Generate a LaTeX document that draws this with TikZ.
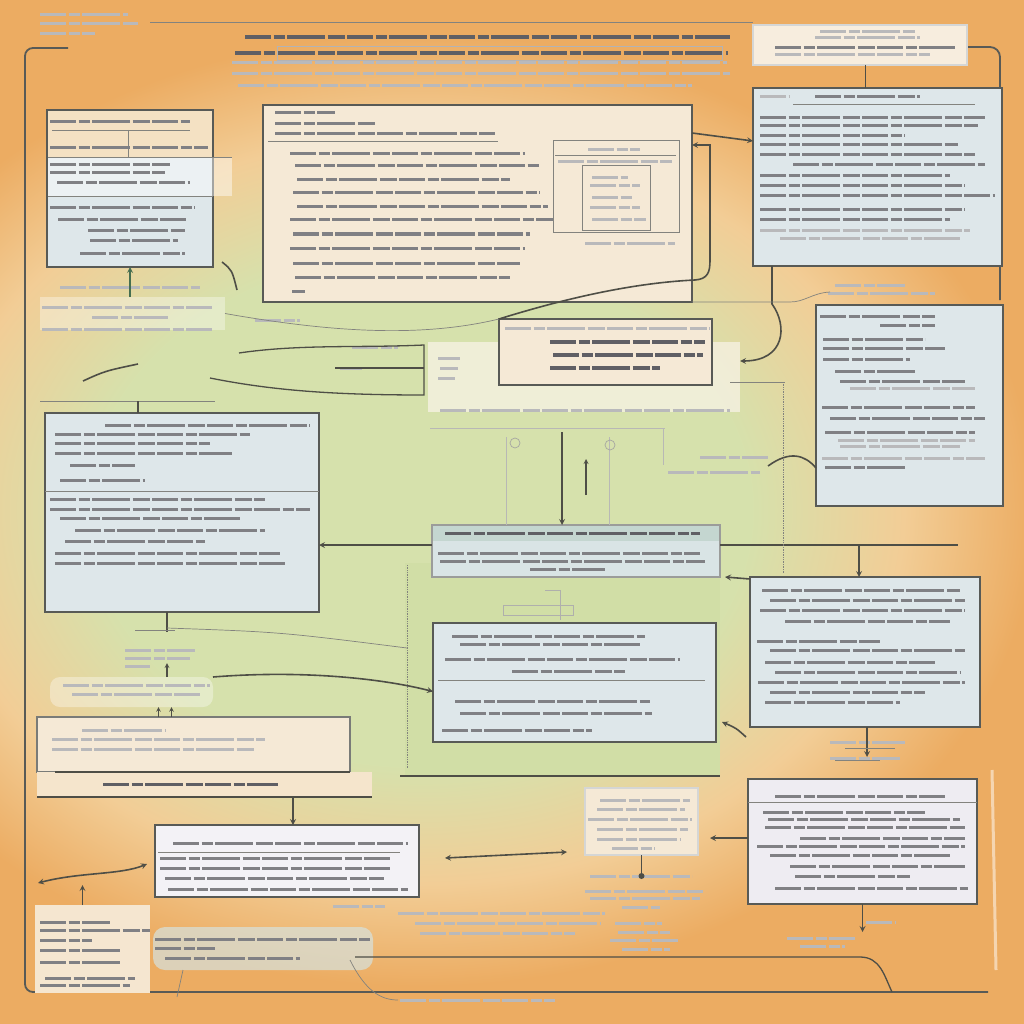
\documentclass[tikz,border=0pt]{standalone}
\definecolor{bgorange}{RGB}{236,172,98}
\definecolor{bgpeach}{RGB}{242,205,150}
\definecolor{bggreen}{RGB}{214,225,172}
\definecolor{boxblue}{RGB}{222,231,234}
\definecolor{boxbeige}{RGB}{245,233,214}
\definecolor{boxlav}{RGB}{238,236,242}
\definecolor{boxteal}{RGB}{196,214,208}
\definecolor{greenpanel}{RGB}{209,222,166}
\definecolor{boxborder}{RGB}{88,90,86}
\definecolor{linedark}{RGB}{78,78,70}
\definecolor{greenline}{RGB}{70,110,80}
\definecolor{textgray}{RGB}{128,128,132}
\definecolor{textdark}{RGB}{95,95,100}
\usepackage{tikz}
\usetikzlibrary{shapes,arrows,positioning,calc}
\pgfdeclareradialshading{bgglow}{\pgfpoint{0bp}{0bp}}{color(0bp)=(bggreen); color(7.5bp)=(bggreen); color(11bp)=(bgpeach); color(14bp)=(bgorange); color(50bp)=(bgorange)}

\begin{document}
\begin{tikzpicture}[x=1pt, y=-1pt,
    panelbox/.style={draw=boxborder, line width=1.6pt, inner sep=0pt, outer sep=0pt, anchor=north west},
    bluebox/.style={panelbox, fill=boxblue},
    beigebox/.style={panelbox, fill=boxbeige},
    lavbox/.style={panelbox, fill=boxlav},
    softbox/.style={panelbox, draw=none, fill=white, fill opacity=.35},
    txt/.style={line width=3pt, draw=textgray, dash pattern=on 26pt off 2.5pt on 11pt off 2.5pt on 38pt off 2.5pt on 17pt off 2.5pt},
    txtdark/.style={txt, draw=textdark, line width=3.6pt},
    txtfaint/.style={txt, draw=textgray!55},
    conn/.style={draw=linedark, line width=1.6pt, >=stealth},
    hairline/.style={draw=linedark!70, line width=0.7pt},
    frameline/.style={draw=boxborder, line width=1.8pt}]

    % Background
    \useasboundingbox (0,0) rectangle (1024,1024);
    \begin{scope}
        \clip (0,0) rectangle (1024,1024);
        \fill[bgorange] (0,0) rectangle (1024,1024);
        \shade[shading=bgglow] (420,510) ellipse (1100 and 850);
    \end{scope}
    \fill[greenpanel] (405,563) rectangle (720,776);
    \fill[boxbeige, fill opacity=.55] (428,342) rectangle (740,412);
    \node[softbox, minimum width=312, minimum height=70] (Dpanel) at (428,342) {};

    % Frame
    \draw[frameline, rounded corners=8] (68,48) -- (25,48) -- (25,992) -- (988,992);
    \draw[frameline, rounded corners=10] (963,47) -- (1000,47) -- (1000,300);
    \draw[hairline] (150,22) -- (753,22);
    \draw[white, opacity=.5, line width=3pt] (992,770) -- (996,970);

    % Title
    \draw[txtdark] (245,37) -- (730,37);
    \draw[txtdark] (235,53) -- (728,53);
    \draw[hairline, draw=textgray!60] (277,46) rectangle (722,60);
    \foreach \y/\a/\b in {63/232/727, 74/232/730, 86/238/692, 15/40/128, 24/40/138, 34/40/95}
        \draw[txtfaint] (\a,\y) -- (\b,\y);

    % Boxes
    \node[panelbox, draw=boxborder!25, fill=boxbeige!80!white, minimum width=214, minimum height=40] (T) at (753,25) {};
    \node[bluebox, minimum width=166, minimum height=157] (A) at (47,110) {};
    \node[beigebox, minimum width=429, minimum height=197] (B) at (263,105) {};
    \node[bluebox, minimum width=249, minimum height=178] (C) at (753,88) {};
    \node[softbox, minimum width=185, minimum height=33] (Astrip) at (40,297) {};
    \node[beigebox, line width=2pt, minimum width=213, minimum height=66] (D) at (499,319) {};
    \node[bluebox, minimum width=187, minimum height=201] (E) at (816,305) {};
    \node[bluebox, minimum width=274, minimum height=199] (F) at (45,413) {};
    \node[bluebox, fill=boxblue!80!boxteal, draw=boxborder!60, minimum width=288, minimum height=52] (G) at (432,525) {};
    \node[bluebox, minimum width=230, minimum height=150] (H) at (750,577) {};
    \node[bluebox, minimum width=283, minimum height=119] (I) at (433,623) {};
    \node[softbox, rounded corners=10, minimum width=163, minimum height=30] (Jlab) at (50,677) {};
    \node[beigebox, draw=boxborder!80, minimum width=313, minimum height=55] (Jbox) at (37,717) {};
    \node[panelbox, draw=none, fill=boxbeige!85!bgpeach, minimum width=335, minimum height=25] (Jbar) at (37,772) {};
    \node[lavbox, fill=boxlav!70!white, minimum width=264, minimum height=72] (K) at (155,825) {};
    \node[beigebox, draw=boxborder!25, minimum width=113, minimum height=67] (L) at (585,788) {};
    \node[lavbox, minimum width=229, minimum height=125] (M) at (748,779) {};
    \node[panelbox, draw=none, fill=boxbeige!90!bgpeach, minimum width=115, minimum height=88] (N) at (35,905) {};
    \node[panelbox, draw=none, rounded corners=12, fill=boxteal!70!white, fill opacity=.7, minimum width=220, minimum height=43] (Blob) at (153,927) {};

    % Inner bands and rules
    \fill[boxbeige!70!bgpeach] (48,111) rectangle (212,157);
    \fill[white, opacity=.45] (48,157) rectangle (232,196);
    \draw[hairline] (48,157) -- (232,157) (48,196) -- (213,196) (52,130) -- (190,130) (128,130) -- (128,157);
    \fill[boxteal] (433,526) rectangle (719,541);
    \draw[hairline] (268,141) -- (498,141) (793,104) -- (975,104);
    \draw[hairline] (553,140) rectangle (679,232) (582,165) rectangle (650,230) (555,155) -- (676,155);
    \draw[hairline] (45,491) -- (319,491) (438,680) -- (705,680) (158,852) -- (400,852) (748,802) -- (977,802);
    \draw[conn, line width=1.2pt] (55,772) -- (350,772) (37,797) -- (372,797);

    % Box text
    \foreach \y/\a/\b in {32/820/915, 38/815/920, 55/775/930}
        \draw[txtfaint] (\a,\y) -- (\b,\y);
    \draw[txt] (775,48) -- (955,48);
    \foreach \y/\a/\b in {122/50/190, 148/50/208, 165/50/170, 173/50/165, 183/57/190, 208/50/195, 220/58/188, 231/88/185, 240/90/178, 253/80/185}
        \draw[txt] (\a,\y) -- (\b,\y);
    \foreach \y/\a/\b in {113/275/335, 124/275/375, 134/275/495, 154/290/525, 166/295/540, 180/297/510, 193/293/540, 207/297/548, 220/290/553, 234/293/530, 248/290/525, 263/293/520, 277/295/510, 291/292/305}
        \draw[txt] (\a,\y) -- (\b,\y);
    \foreach \y/\a/\b in {150/588/640, 162/558/672, 178/592/628, 186/590/640, 198/592/633, 208/590/640, 220/592/646, 243/585/675}
        \draw[txtfaint] (\a,\y) -- (\b,\y);
    \foreach \y/\a/\b in {97/815/920, 118/760/985, 126/760/978, 136/760/905, 145/760/958, 155/760/975, 165/793/985, 176/760/950, 186/760/965, 196/760/995, 210/760/965, 220/760/950}
        \draw[txt] (\a,\y) -- (\b,\y);
    \foreach \y/\a/\b in {97/760/790, 231/760/970, 238/780/960}
        \draw[txtfaint] (\a,\y) -- (\b,\y);
    \foreach \y/\a/\b in {287/60/200, 307/42/212, 317/92/168, 329/42/212, 285/835/905, 293/828/935}
        \draw[txtfaint] (\a,\y) -- (\b,\y);
    \draw[txtfaint] (505,328) -- (710,328);
    \foreach \y/\a/\b in {342/550/705, 355/553/703, 368/550/660}
        \draw[txtdark, line width=3.2pt] (\a,\y) -- (\b,\y);
    \foreach \y/\a/\b in {358/438/460, 368/440/458, 378/438/455, 410/440/730}
        \draw[txtfaint] (\a,\y) -- (\b,\y);
    \foreach \y/\a/\b in {316/820/935, 325/880/935, 339/823/925, 348/823/945, 359/823/910, 371/835/915, 381/840/965, 407/822/975, 418/830/985, 432/825/975, 467/825/905}
        \draw[txt] (\a,\y) -- (\b,\y);
    \foreach \y/\a/\b in {388/850/975, 440/838/975, 446/840/960, 458/822/985, 457/700/768, 472/668/760}
        \draw[txtfaint] (\a,\y) -- (\b,\y);
    \foreach \y/\a/\b in {425/105/310, 434/55/250, 443/55/210, 453/55/232, 465/70/135, 480/60/145, 499/50/265, 509/50/310, 518/60/240, 530/75/265, 541/65/205, 553/55/280, 563/55/285}
        \draw[txt] (\a,\y) -- (\b,\y);
    \draw[txtdark, line width=3pt] (445,533) -- (700,533);
    \foreach \y/\a/\b in {553/438/700, 561/440/705, 569/530/605}
        \draw[txt] (\a,\y) -- (\b,\y);
    \foreach \y/\a/\b in {636/452/645, 644/460/640, 659/445/680, 671/512/625, 701/455/650, 713/460/652, 730/442/592}
        \draw[txt] (\a,\y) -- (\b,\y);
    \foreach \y/\a/\b in {590/762/960, 600/770/965, 610/760/965, 621/785/950, 641/757/880, 650/770/965, 662/765/935, 672/775/960, 682/758/965, 692/770/925, 702/765/900}
        \draw[txt] (\a,\y) -- (\b,\y);
    \foreach \y/\a/\b in {650/125/195, 658/125/190, 666/125/150, 685/63/210, 694/72/200, 730/82/165, 739/52/265, 749/52/255}
        \draw[txtfaint] (\a,\y) -- (\b,\y);
    \draw[txtdark, line width=3pt] (103,784) -- (278,784);
    \foreach \y/\a/\b in {843/173/408, 858/160/390, 868/160/392, 878/165/384, 889/168/408}
        \draw[txt] (\a,\y) -- (\b,\y);
    \foreach \y/\a/\b in {800/600/690, 809/597/685, 819/588/692, 829/597/688, 839/597/680, 848/612/655}
        \draw[txtfaint] (\a,\y) -- (\b,\y);
    \foreach \y/\a/\b in {796/775/945, 812/763/925, 819/768/960, 827/765/965, 838/800/965, 846/757/965, 855/770/950, 866/790/965, 876/795/910, 888/775/968}
        \draw[txt] (\a,\y) -- (\b,\y);
    \foreach \y/\a/\b in {922/40/110, 930/40/150, 940/40/92, 950/40/120, 962/40/120, 978/45/135, 985/40/130, 939/155/370, 948/155/215, 958/165/300}
        \draw[txt] (\a,\y) -- (\b,\y);
    \foreach \y/\a/\b in {906/333/385, 913/398/605, 923/415/600, 933/420/575, 876/590/692, 891/585/703, 898/590/700, 907/622/660, 923/615/662, 932/618/670, 940/610/678, 949/622/670, 1000/400/555, 922/866/895, 938/787/855, 946/800/845, 742/830/905, 758/830/900, 320/255/300, 347/352/398, 368/340/362}
        \draw[txtfaint] (\a,\y) -- (\b,\y);

    % Connectors, top
    \draw[conn,->] ([yshift=-28pt]B.north east) -- ([yshift=-53pt]C.north west);
    \draw[conn, line width=1pt] ([xshift=5pt]T.south) -- ([xshift=5pt]T.south |- C.north);
    \draw[conn,->,draw=greenline] (Astrip.north -| A.south) -- (A.south);
    \draw[conn] (222,262) .. controls (232,270) .. (237,290);
    \draw[conn,->] ([xshift=19pt]C.south west) -- ++(0,38) .. controls +(16,22) and +(45,0) .. ([yshift=16pt]Dpanel.east);
    \draw[conn,->] (D.north west) .. controls (560,300) and (630,283) .. (695,280) .. controls (708,279) and (710,272) .. (710,260) -- (710,145) -- ([yshift=-40pt]B.north east);
    \draw[hairline] (B.south east) -- (790,302) .. controls (805,302) and (812,293) .. (830,292);

    % Connectors, left of the panel
    \coordinate (la) at (239,353);
    \coordinate (lb) at (335,368);
    \coordinate (lc) at (210,378);
    \coordinate (pt) at (424,345);
    \coordinate (pb) at (424,395);
    \draw[hairline] (Astrip.east) .. controls (330,332) and (420,338) .. (D.north west);
    \draw[conn, line width=1.3pt] (la) .. controls (300,344) and (360,348) .. (pt) -- (pb) .. controls (330,395) and (270,390) .. (lc);
    \draw[conn, line width=1.3pt] (lb) -- (lb -| pt);
    \draw[conn] (83,381) .. controls (105,371) .. (138,364);
    \draw[hairline] (40,401) -- (215,401);
    \draw[conn, line width=1.2pt] ([xshift=-44pt]F.north) -- ++(0,-12);

    % Connectors, middle
    \coordinate (dg) at (562,432);
    \coordinate (du) at (586,495);
    \draw[hairline, draw=linedark!40] (430,428) -- (665,428) (506,437) -- (506,525) (609,437) -- (609,525) (663,428) -- (663,465);
    \draw[hairline, draw=linedark!50] (515,443) circle (5) (610,445) circle (5);
    \draw[conn,->] (dg) -- (dg |- G.north);
    \draw[conn,->,line width=1.2pt] (du) -- ++(0,-36);
    \draw[conn,->] ([yshift=-20pt]G.north west) -- ([yshift=-20pt]G.north west -| F.east);
    \draw[conn] ([yshift=-20pt]G.north east) -- (958,545);
    \coordinate (gh) at (859,545);
    \draw[conn,->] (gh) -- (gh |- H.north);
    \draw[conn,->] ([yshift=-2pt]H.north west) -- ([xshift=5pt]G.south east);
    \draw[hairline, densely dotted] (783,382) -- (783,573);
    \draw[hairline] (730,382) -- (785,382);
    \coordinate (de) at (768,466);
    \draw[conn] (de) .. controls (790,450) and (805,455) .. ([yshift=-163pt]E.north west);
    \draw[hairline, densely dotted] (407,565) -- (407,768);
    \draw[conn, line width=1.3pt] (400,776) -- (720,776);
    \draw[hairline, draw=linedark!45] (503,605) rectangle (573,615) (545,590) -- (560,590) -- (560,620);
    \draw[conn,->] ([xshift=-4pt,yshift=-10pt]H.south west) .. controls (736,728) .. ([xshift=6pt,yshift=20pt]I.south east);

    % Connectors, lower left
    \draw[conn, line width=1.2pt] ([xshift=-15pt]F.south) -- ++(0,20);
    \draw[hairline] (135,630) -- (175,630);
    \draw[hairline] (167,628) .. controls (280,632) .. (407,648);
    \draw[conn,->,line width=1.2pt] ([xshift=35.5pt]Jlab.north) -- ++(0,-14);
    \draw[conn,->] (Jlab.north east) .. controls (300,670) and (380,678) .. ([yshift=-9pt]I.west);
    \draw[conn,->,line width=1.1pt] ([xshift=-35pt]Jbox.north) -- ([xshift=-35pt]Jbox.north |- Jlab.south);
    \draw[conn,->,line width=1.1pt] ([xshift=-22pt]Jbox.north) -- ([xshift=-22pt]Jbox.north |- Jlab.south);
    \draw[conn,->] ([xshift=6pt]K.north |- Jbar.south) -- ([xshift=6pt]K.north);
    \coordinate (kw) at (38,883);
    \draw[conn,<->] (kw) .. controls (80,872) and (120,875) .. ([xshift=-8pt,yshift=-3pt]K.west);
    \draw[conn,->] ([xshift=-10pt]N.north) -- ++(0,-20);

    % Connectors, lower right
    \coordinate (kl) at (445,858);
    \coordinate (lk) at (567,852);
    \draw[conn,<->] (kl) -- (lk);
    \draw[conn,->,shorten >=12pt] ([yshift=-59pt]M.north west) -- ([yshift=-59pt]M.north west -| L.east);
    \draw[conn] (L.south) -- ++(0,21);
    \fill[linedark] ([yshift=-21pt]L.south) circle (3);
    \draw[conn,->] ([xshift=2pt]H.south) -- ++(0,30);
    \draw[hairline] (845,748) -- (895,748) (835,760) -- (880,760);
    \draw[conn,->] (M.south) -- ++(0,28);

    % Bottom lines
    \draw[conn, line width=1.3pt] (355,957) -- (860,957) .. controls (880,957) and (884,975) .. (892,992);
    \draw[hairline] (350,960) .. controls (365,990) and (380,1000) .. (398,1000);
    \draw[hairline] (183,970) -- (177,997);
\end{tikzpicture}
\end{document}
